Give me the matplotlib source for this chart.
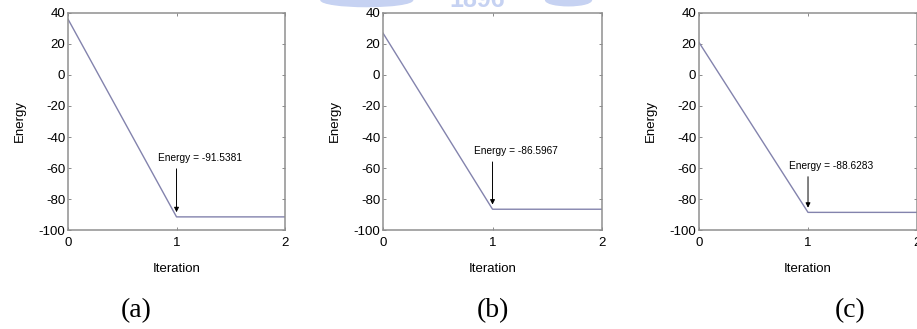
import matplotlib.pyplot as plt
from matplotlib.patches import Ellipse

plt.rcParams['font.family'] = ['Liberation Sans', 'DejaVu Sans']
plt.rcParams['axes.unicode_minus'] = False

# data
iterations = [0, 1, 2]
start_energy = [36, 27, 21]
final_energy = [-91.5381, -86.5967, -88.6283]
captions = ['(a)', '(b)', '(c)']
yticks = [-100, -80, -60, -40, -20, 0, 20, 40]
xticks = [0, 1, 2]

# layout (figure fractions)
lefts = [0.0742, 0.4177, 0.7623]
widths = [0.2366, 0.2388, 0.2377]
cap_x = [0.149, 0.538, 0.927]
label_off = [38, 37.5, 30]   # text height above final energy, data units

fig = plt.figure(figsize=(9.17, 3.29), dpi=100)

# faint watermark at the top
wm = '#c6d2f2'
fig.patches.append(Ellipse((0.40, 1.0), 0.10, 0.04, transform=fig.transFigure,
                           color=wm, zorder=0))
fig.patches.append(Ellipse((0.62, 1.0), 0.05, 0.035, transform=fig.transFigure,
                           color=wm, zorder=0))
fig.text(0.52, 1.0, '1896', fontsize=18, color=wm, ha='center', va='center',
         fontweight='bold')

for i in range(3):
    ax = fig.add_axes([lefts[i], 0.3009, widths[i], 0.6596])
    y = [start_energy[i], final_energy[i], final_energy[i]]
    ax.plot(iterations, y, color='#8383ad', lw=1.0)
    ax.set_xlim(0, 2)
    ax.set_ylim(-100, 40)
    ax.set_xticks(xticks)
    ax.set_yticks(yticks)
    ax.tick_params(direction='in', length=2.5, width=0.6, top=True, right=True,
                   labelsize=9.5, color='#777777', pad=2)
    ax.tick_params(axis='x', pad=5)
    for s in ax.spines.values():
        s.set_color('#8f8f8f')
        s.set_linewidth(1.1)
    ax.set_xlabel('Iteration', fontsize=9.5, labelpad=10)
    ax.set_ylabel('Energy', fontsize=9.5, labelpad=9)
    e = final_energy[i]
    ax.annotate('', xy=(1, e + 3), xytext=(1, e + label_off[i] - 7),
                arrowprops=dict(arrowstyle='-|>', color='black', lw=0.7,
                                mutation_scale=7, shrinkA=0, shrinkB=0))
    ax.text(0.83, e + label_off[i], 'Energy = %.4f' % e, fontsize=7.3,
            ha='left', va='center')
    fig.text(cap_x[i], 0.055, captions[i], fontsize=20, ha='center', va='center',
             family='Liberation Serif')

plt.savefig('out.png', dpi=100)
